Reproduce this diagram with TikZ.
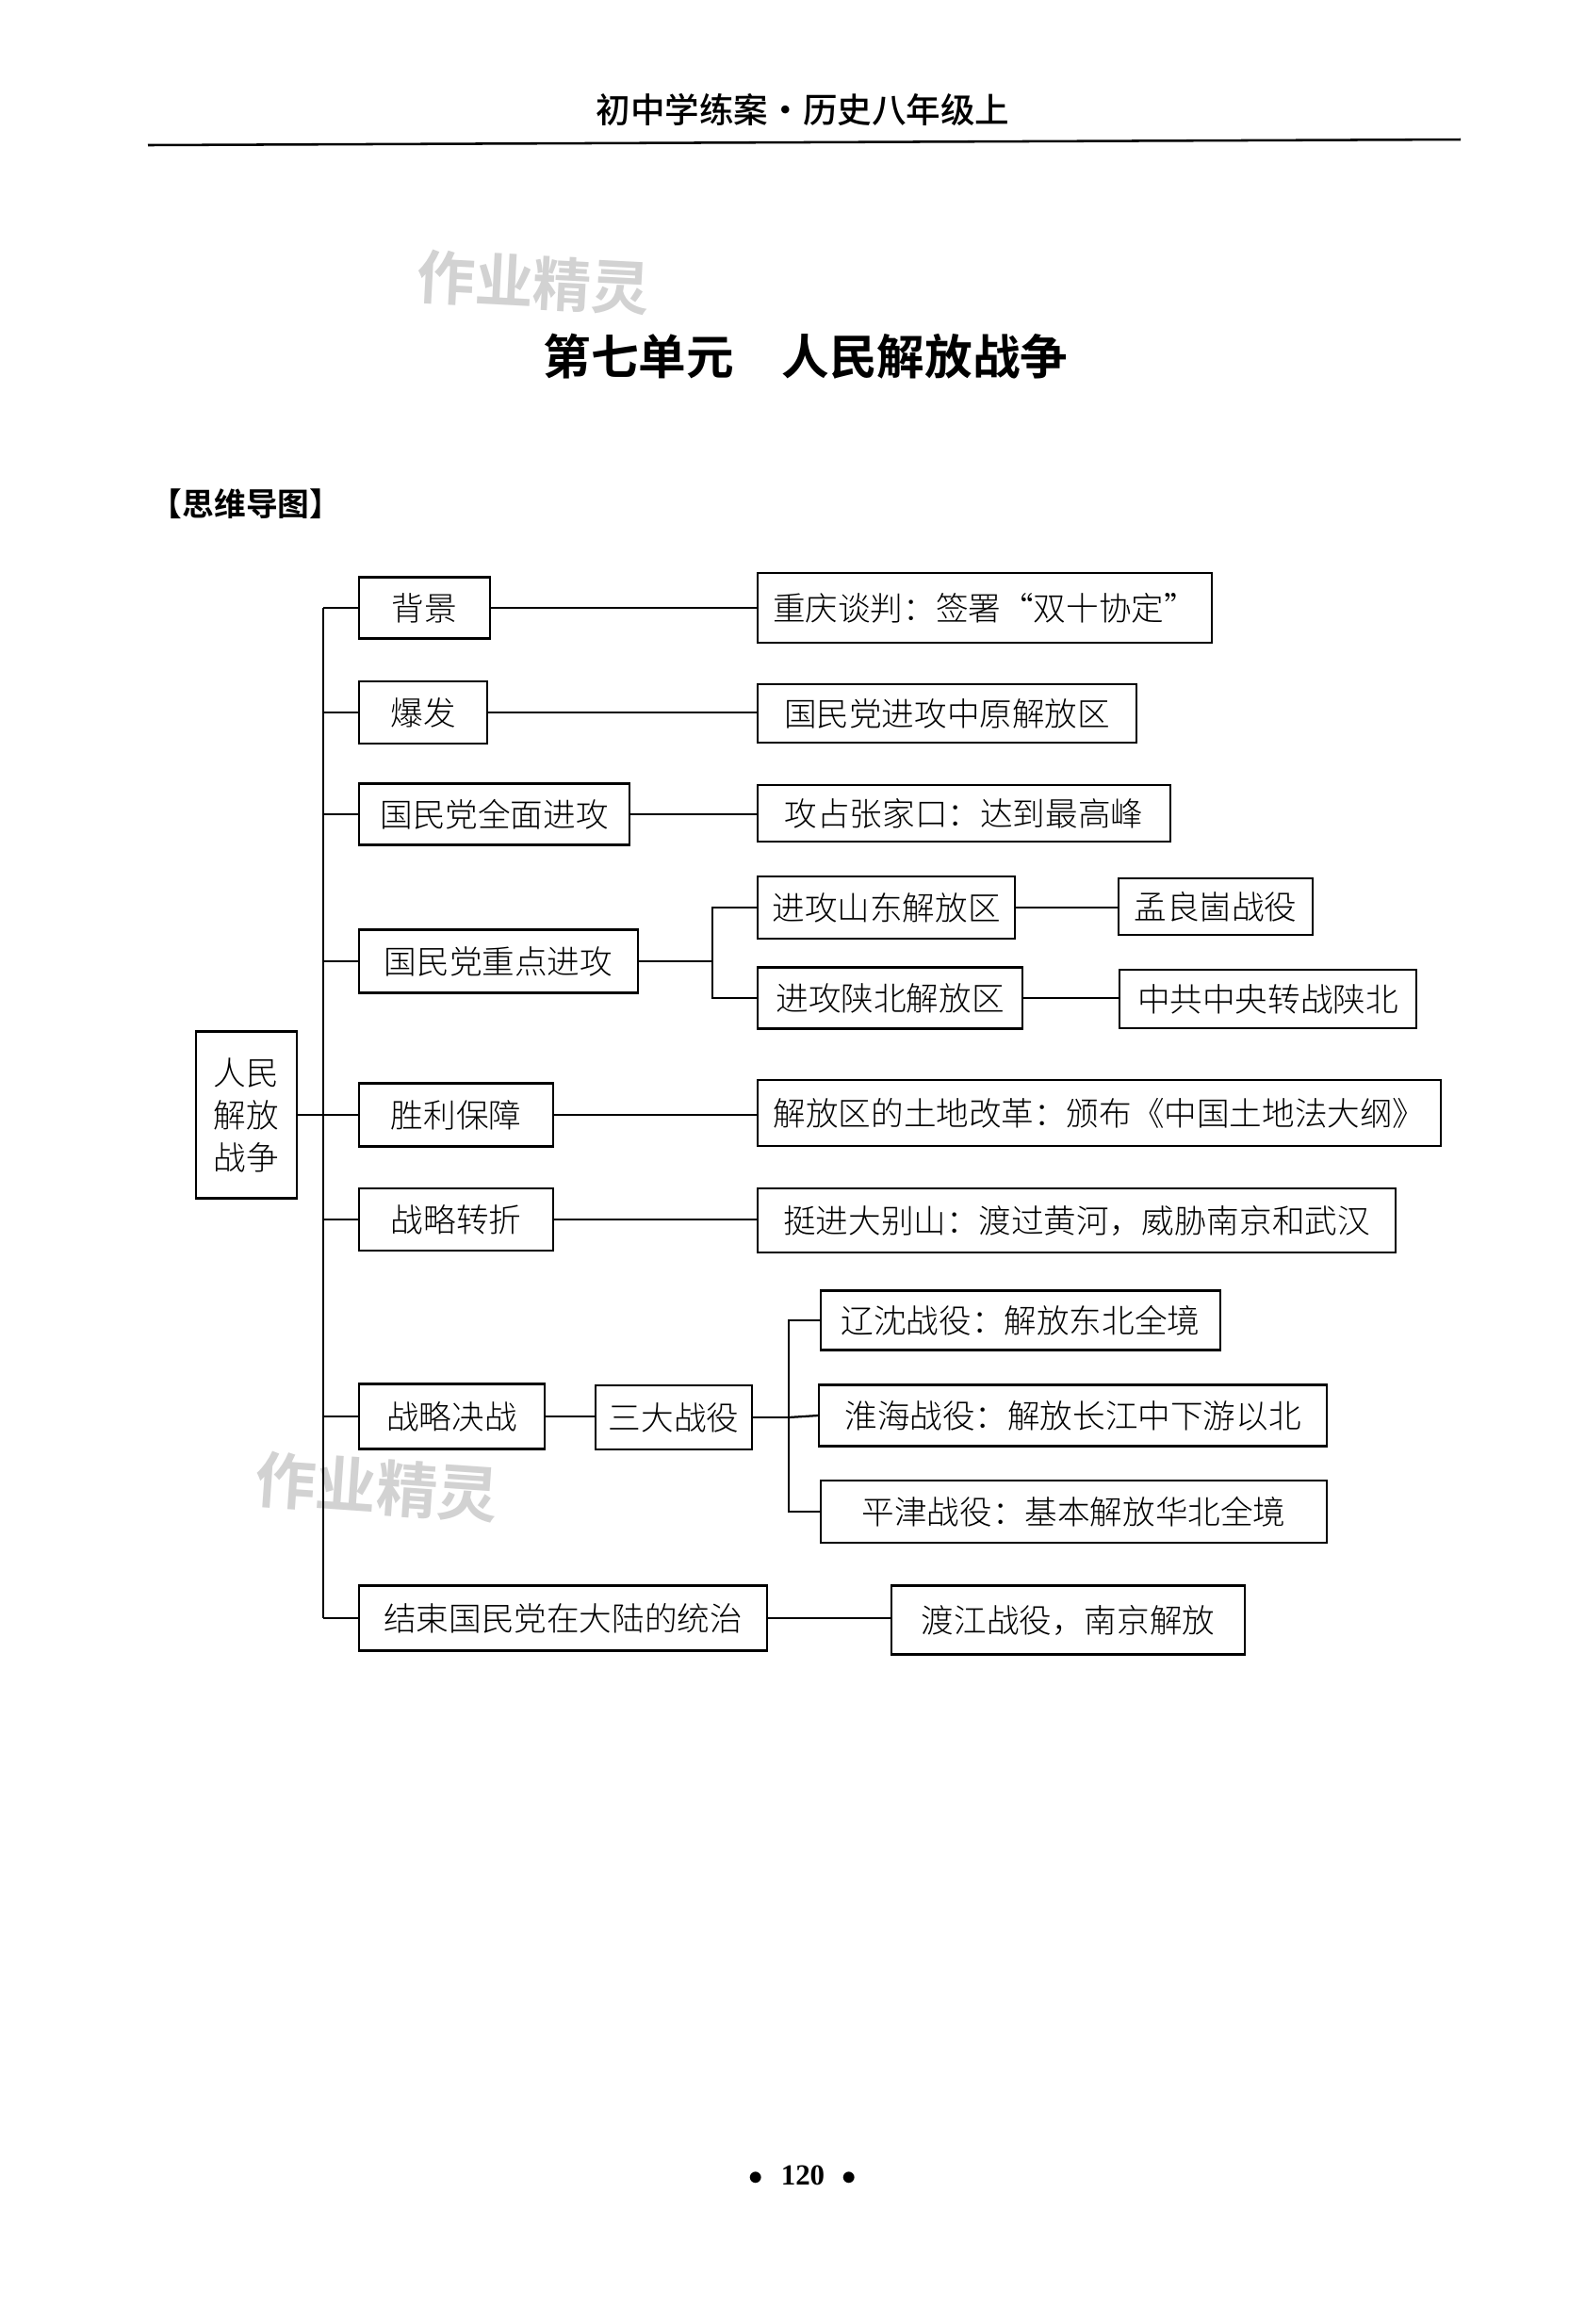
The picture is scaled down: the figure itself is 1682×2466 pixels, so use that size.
\documentclass[tikz,border=0pt]{standalone}
\usepackage{fontspec}
\usepackage{tikz}
\usetikzlibrary{positioning}
\IfFontExistsTF{Noto Sans CJK SC Light}{\setmainfont{Noto Sans CJK SC Light}}{\setmainfont{Noto Sans CJK SC}}
\IfFontExistsTF{Noto Sans CJK SC Bold}{\newfontfamily\heiti{Noto Sans CJK SC Bold}}{\newfontfamily\heiti{Noto Sans CJK SC}[FakeBold=2]}
\IfFontExistsTF{Noto Sans CJK SC Medium}{\newfontfamily\headfont{Noto Sans CJK SC Medium}}{\newfontfamily\headfont{Noto Sans CJK SC}}
\newfontfamily\numfont{Liberation Serif}
\newlength{\pxu}\setlength{\pxu}{0.0125cm}

\begin{document}
\begin{tikzpicture}[x=0.0125cm,y=-0.0125cm,
  box/.style={draw,line width=0.75pt,anchor=west,inner sep=0pt,align=center,
    font=\fontsize{12.3}{16}\selectfont},
  link/.style={line width=0.8pt}]
  \useasboundingbox[fill=white] (0,0) rectangle (1682,2466);

  % page head
  \node[font=\headfont\fontsize{13}{15}\selectfont] (head) at (852,116) {初中学练案·历史八年级上};
  \draw[line width=0.9pt] (157,154) -- (1550,148);
  \node[text=gray!35,rotate=-3,font=\heiti\fontsize{22}{24}\selectfont] (wm1) at (566,300) {作业精灵};
  \node[font=\heiti\fontsize{18}{20}\selectfont] (title) at (855,378) {第七单元\hspace{1em}人民解放战争};
  \node[anchor=west,font=\heiti\fontsize{12}{14}\selectfont] (mind) at (150,535) {【思维导图】};

  % first level
  \node[box,minimum width=107\pxu,minimum height=177\pxu] (root) at (207,1183) {人民\\解放\\战争};
  \node[box,minimum width=139\pxu,minimum height=65\pxu] (bg) at (380,645) {背景};
  \node[box,minimum width=136\pxu,minimum height=66\pxu] (bf) at (380,756) {爆发};
  \node[box,minimum width=287\pxu,minimum height=65\pxu] (qm) at (380,864) {国民党全面进攻};
  \node[box,minimum width=296\pxu,minimum height=67\pxu] (zd) at (380,1020) {国民党重点进攻};
  \node[box,minimum width=206\pxu,minimum height=67\pxu] (sl) at (380,1183) {胜利保障};
  \node[box,minimum width=206\pxu,minimum height=66\pxu] (zz) at (380,1294) {战略转折};
  \node[box,minimum width=197\pxu,minimum height=69\pxu] (jz) at (380,1503) {战略决战};
  \node[box,minimum width=433\pxu,minimum height=69\pxu] (js) at (380,1717) {结束国民党在大陆的统治};

  % second level
  \node[box,minimum width=482\pxu,minimum height=74\pxu] (cq) at (803,645) {重庆谈判：签署“双十协定”};
  \node[box,minimum width=402\pxu,minimum height=62\pxu] (zy) at (803,757) {国民党进攻中原解放区};
  \node[box,minimum width=438\pxu,minimum height=60\pxu] (zj) at (803,863) {攻占张家口：达到最高峰};
  \node[box,minimum width=273\pxu,minimum height=66\pxu] (sd) at (803,963) {进攻山东解放区};
  \node[box,minimum width=281\pxu,minimum height=65\pxu] (sb) at (803,1059) {进攻陕北解放区};
  \node[box,minimum width=206\pxu,minimum height=60\pxu] (mlg) at (1186,962) {孟良崮战役};
  \node[box,minimum width=315\pxu,minimum height=62\pxu] (zg) at (1187,1060) {中共中央转战陕北};
  \node[box,minimum width=725\pxu,minimum height=70\pxu] (td) at (803,1181) {解放区的土地改革：颁布《中国土地法大纲》};
  \node[box,minimum width=677\pxu,minimum height=68\pxu] (dbs) at (803,1295) {挺进大别山：渡过黄河，威胁南京和武汉};
  \node[box,minimum width=166\pxu,minimum height=68\pxu] (sdzy) at (631,1504) {三大战役};
  \node[box,minimum width=424\pxu,minimum height=63\pxu] (ls) at (870,1401) {辽沈战役：解放东北全境};
  \node[box,minimum width=539\pxu,minimum height=65\pxu] (hh) at (868,1502) {淮海战役：解放长江中下游以北};
  \node[box,minimum width=537\pxu,minimum height=66\pxu] (pj) at (870,1604) {平津战役：基本解放华北全境};
  \node[box,minimum width=375\pxu,minimum height=73\pxu] (dj) at (945,1719) {渡江战役，南京解放};

  \node[text=gray!35,rotate=-4,font=\heiti\fontsize{23}{25}\selectfont] (wm2) at (400,1578) {作业精灵};

  % trunk and forks
  \coordinate (trunk) at (343,0);
  \coordinate (zdfork) at (756,1020);
  \coordinate (sdfork) at (837,1504);
  \draw[link] (bg.west -| trunk) -- (js.west -| trunk);
  \draw[link] (root.east) -- (root.east -| trunk);
  \foreach \n in {bg,bf,qm,zd,sl,zz,jz,js}
    \draw[link] (\n.west -| trunk) -- (\n.west);

  \draw[link] (bg.east) -- (cq.west |- bg.east);
  \draw[link] (bf.east) -- (zy.west |- bf.east);
  \draw[link] (qm.east) -- (zj.west |- qm.east);
  \draw[link] (zd.east) -- (zdfork);
  \draw[link] (sd.west) -| (zdfork) |- (sb.west);
  \draw[link] (sd.east) -- (mlg.west |- sd.east);
  \draw[link] (sb.east) -- (zg.west |- sb.east);
  \draw[link] (sl.east) -- (td.west |- sl.east);
  \draw[link] (zz.east) -- (dbs.west |- zz.east);
  \draw[link] (jz.east) -- (sdzy.west |- jz.east);
  \draw[link] (sdzy.east) -- (sdfork);
  \draw[link] (ls.west) -| (sdfork) |- (pj.west);
  \draw[link] (sdfork) -- (hh.west);
  \draw[link] (js.east) -- (dj.west |- js.east);

  % page number
  \node[font=\numfont\bfseries\fontsize{11}{13}\selectfont] (page) at (852,2308) {$\bullet$\hspace{0.6em}120\hspace{0.6em}$\bullet$};
\end{tikzpicture}
\end{document}
